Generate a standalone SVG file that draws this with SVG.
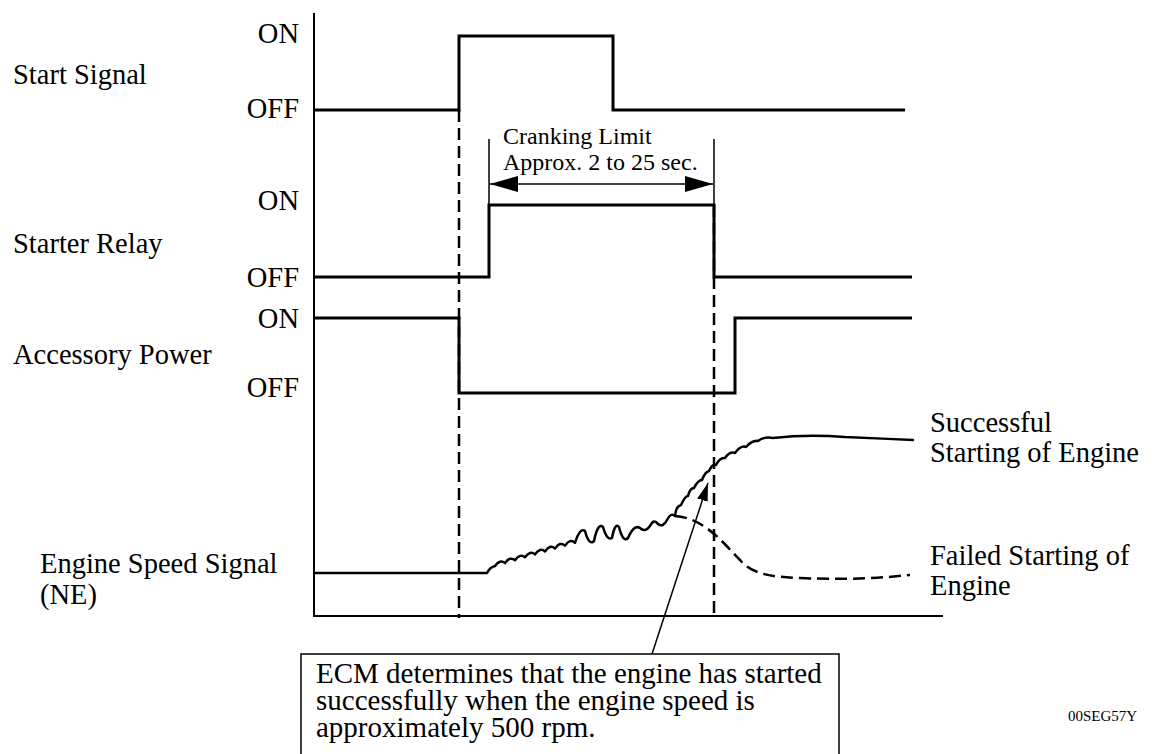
<svg xmlns="http://www.w3.org/2000/svg" width="1157" height="754" viewBox="0 0 1157 754">
<style>
text{font-family:"Liberation Serif","Times New Roman",serif;fill:#000}
.lbl{font-size:28.5px}
.lv{font-size:28.5px;text-anchor:end}
.co{font-size:29px}
.sm{font-size:24px}
.sig{fill:none;stroke:#000;stroke-width:3;stroke-linejoin:miter}
.ax{fill:none;stroke:#000;stroke-width:2}
.dash{fill:none;stroke:#000;stroke-width:2.5;stroke-dasharray:12 6}
.thin{fill:none;stroke:#000;stroke-width:1.5}
</style>
<defs>
<marker id="ah" viewBox="0 0 28 16" refX="28" refY="8" markerWidth="28" markerHeight="16" markerUnits="userSpaceOnUse" orient="auto-start-reverse">
<path d="M0,0 L28,8 L0,16 Z" fill="#000"/>
</marker>
<marker id="ah2" viewBox="0 0 18 11" refX="18" refY="5.5" markerWidth="18" markerHeight="11" markerUnits="userSpaceOnUse" orient="auto">
<path d="M0,0 L18,5.5 L0,11 Z" fill="#000"/>
</marker>
</defs>
<g id="axes">
<path class="ax" d="M314,13 L314,616 L943,616"/>
</g>
<g id="start-signal">
<text class="lbl" x="13" y="84">Start Signal</text>
<text class="lv" x="299" y="43">ON</text>
<text class="lv" x="299" y="118">OFF</text>
<path class="sig" d="M314,110 L459,110 L459,36 L613,36 L613,110 L905,110"/>
</g>
<g id="starter-relay">
<text class="lbl" x="13" y="253">Starter Relay</text>
<text class="lv" x="299" y="210">ON</text>
<text class="lv" x="299" y="287">OFF</text>
<path class="sig" d="M314,277 L489,277 L489,205 L714,205 L714,277 L912,277"/>
</g>
<g id="accessory-power">
<text class="lbl" x="13" y="364">Accessory Power</text>
<text class="lv" x="299" y="328">ON</text>
<text class="lv" x="299" y="397">OFF</text>
<path class="sig" d="M314,318 L459,318 L459,393 L735,393 L735,318 L912,318"/>
</g>
<g id="cranking-limit">
<text class="sm" x="503" y="144">Cranking Limit</text>
<text class="sm" x="503" y="170">Approx. 2 to 25 sec.</text>
<line class="thin" x1="489" y1="139" x2="489" y2="205"/>
<line class="thin" x1="714" y1="139" x2="714" y2="205"/>
<line class="thin" x1="490" y1="184" x2="713" y2="184" marker-start="url(#ah)" marker-end="url(#ah)"/>
</g>
<g id="engine-speed">
<text class="lbl" x="40" y="573">Engine Speed Signal</text>
<text class="lbl" x="40" y="604">(NE)</text>
<path fill="none" stroke="#000" stroke-width="2.5" stroke-linejoin="round" stroke-linecap="round" d="M314,573 L487,573 Q490,567 495,566 Q500,559 505,563.1 Q510,556 515,560.2 Q520,553 525,557.3 Q530,550 535,554.4 Q540,547 545,551.5 Q550,544 555,548.6 Q560,541 565,545.7 Q570,538 575,542.8 Q580,527 585,531 Q589,546 594,541 Q598,522 603,527 Q607,541 612,538 Q615,522 619,527 Q623,543 628,538 Q634,524 640,528 Q645,533 650,526 Q654,518 658,524 Q663,528 667,520 Q671,512 675,516 Q676,506 681,505 Q685,496 688,496 Q690,488 694,488 Q698,480 702,480 Q705,472 709,471 Q712,464 716,465 Q720,457 725,458 Q730,451 735,453 Q741,445 746,447 Q752,440 758,441 Q765,436 773,438 C790,436 820,435 845,437 C870,438 890,439 913,440"/>
<path class="dash" stroke-dasharray="14 7" d="M675,516 C705,518 725,545 740,560 C752,574 770,577 800,578 C850,580 880,578 910,575"/>
<text class="lbl" x="930" y="432">Successful</text>
<text class="lbl" x="930" y="462">Starting of Engine</text>
<text class="lbl" x="930" y="565">Failed Starting of</text>
<text class="lbl" x="930" y="595">Engine</text>
</g>
<g id="connectors">
<line class="dash" x1="459" y1="110" x2="459" y2="618"/>
<line class="dash" x1="714" y1="205" x2="714" y2="618"/>
<line class="thin" x1="652" y1="654" x2="708" y2="483" marker-end="url(#ah2)"/>
</g>
<g id="callout">
<rect x="301" y="654" width="538" height="110" fill="#fff" stroke="#000" stroke-width="1.5"/>
<text class="co" x="316" y="683">ECM determines that the engine has started</text>
<text class="co" x="316" y="710">successfully when the engine speed is</text>
<text class="co" x="316" y="737">approximately 500 rpm.</text>
</g>
<g id="figure-code">
<text x="1068" y="721" font-size="15">00SEG57Y</text>
</g>
</svg>
